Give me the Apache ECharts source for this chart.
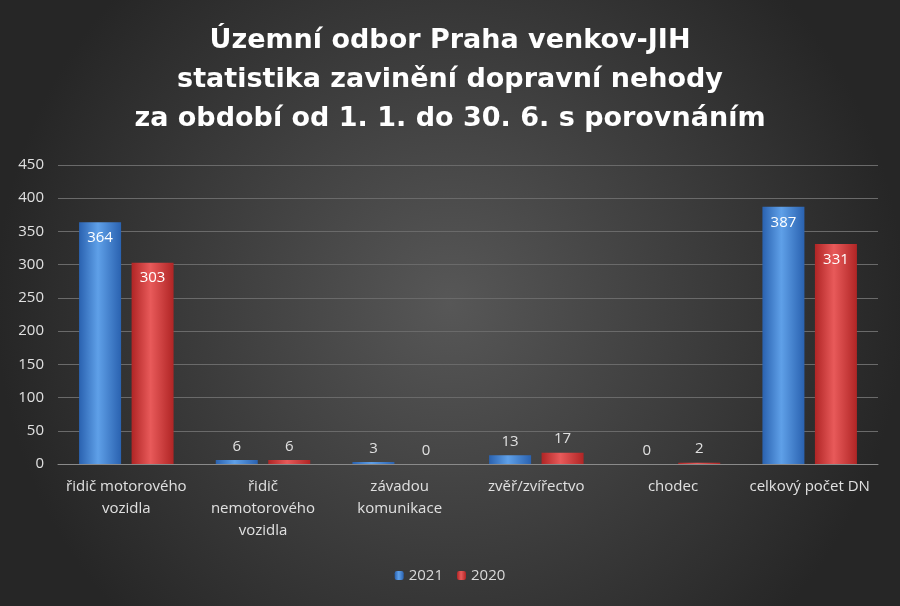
<!DOCTYPE html>
<html><head><meta charset="utf-8">
<script src="https://cdn.jsdelivr.net/npm/echarts@6/dist/echarts.min.js"></script>
<style>html,body{margin:0;padding:0;}#c{width:900px;height:606px;}</style>
</head><body><div id="c"></div>
<script>
const categories = ["řidič motorového\nvozidla", "řidič\nnemotorového\nvozidla", "závadou\nkomunikace", "zvěř/zvířectvo", "chodec", "celkový počet DN"];
const values2021 = [364, 6, 3, 13, 0, 387];
const values2020 = [303, 6, 0, 17, 2, 331];
const yTicks = {min: 0, max: 450, interval: 50};

function grad(light, dark) {
  return new echarts.graphic.LinearGradient(0, 0, 1, 0, [
    {offset: 0, color: dark}, {offset: 0.45, color: light}, {offset: 1, color: dark}]);
}
function items(arr) {
  return arr.map(v => ({
    value: v,
    label: v > 50 ? {position: 'insideTop', distance: 8, color: '#ffffff'} : {position: 'top', distance: 6, color: '#e0e0e0'}
  }));
}
const chart = echarts.init(document.getElementById('c'));
chart.setOption({
  backgroundColor: new echarts.graphic.RadialGradient(0.5, 0.5, 0.75, [
    {offset: 0, color: '#575757'}, {offset: 1, color: '#262626'}]),
  title: {
    text: 'Územní odbor Praha venkov-JIH\nstatistika zavinění dopravní nehody\nza období od 1. 1. do 30. 6. s porovnáním',
    left: 'center', top: 16,
    textStyle: {color: '#ffffff', fontFamily: 'DejaVu Sans', fontWeight: 'bold', fontSize: 27, lineHeight: 39}
  },
  legend: {
    bottom: 18, left: 'center', itemWidth: 9, itemHeight: 9, itemGap: 14,
    textStyle: {color: '#d9d9d9', fontSize: 15, fontFamily: 'Open Sans'},
    data: ['2021', '2020']
  },
  grid: {left: 58, right: 22, top: 165, bottom: 142},
  xAxis: {
    type: 'category', data: categories,
    axisLine: {lineStyle: {color: '#8a8a8a'}}, axisTick: {show: false},
    axisLabel: {color: '#e0e0e0', fontSize: 15, fontFamily: 'Open Sans', interval: 0, lineHeight: 22, margin: 12}
  },
  yAxis: {
    type: 'value', min: yTicks.min, max: yTicks.max, interval: yTicks.interval,
    axisLine: {show: false}, axisTick: {show: false},
    axisLabel: {color: '#e0e0e0', fontSize: 15, fontFamily: 'Open Sans', margin: 14},
    splitLine: {lineStyle: {color: '#6a6a6a'}}
  },
  series: [
    {name: '2021', type: 'bar', data: items(values2021), barWidth: 42, barGap: '25%',
     itemStyle: {color: grad('#5fa0e8', '#2a62b0')},
     label: {show: true, fontSize: 15, fontFamily: 'Open Sans'}},
    {name: '2020', type: 'bar', data: items(values2020), barWidth: 42,
     itemStyle: {color: grad('#e85a5a', '#b02525')},
     label: {show: true, fontSize: 15, fontFamily: 'Open Sans'}}
  ]
});
</script></body></html>
